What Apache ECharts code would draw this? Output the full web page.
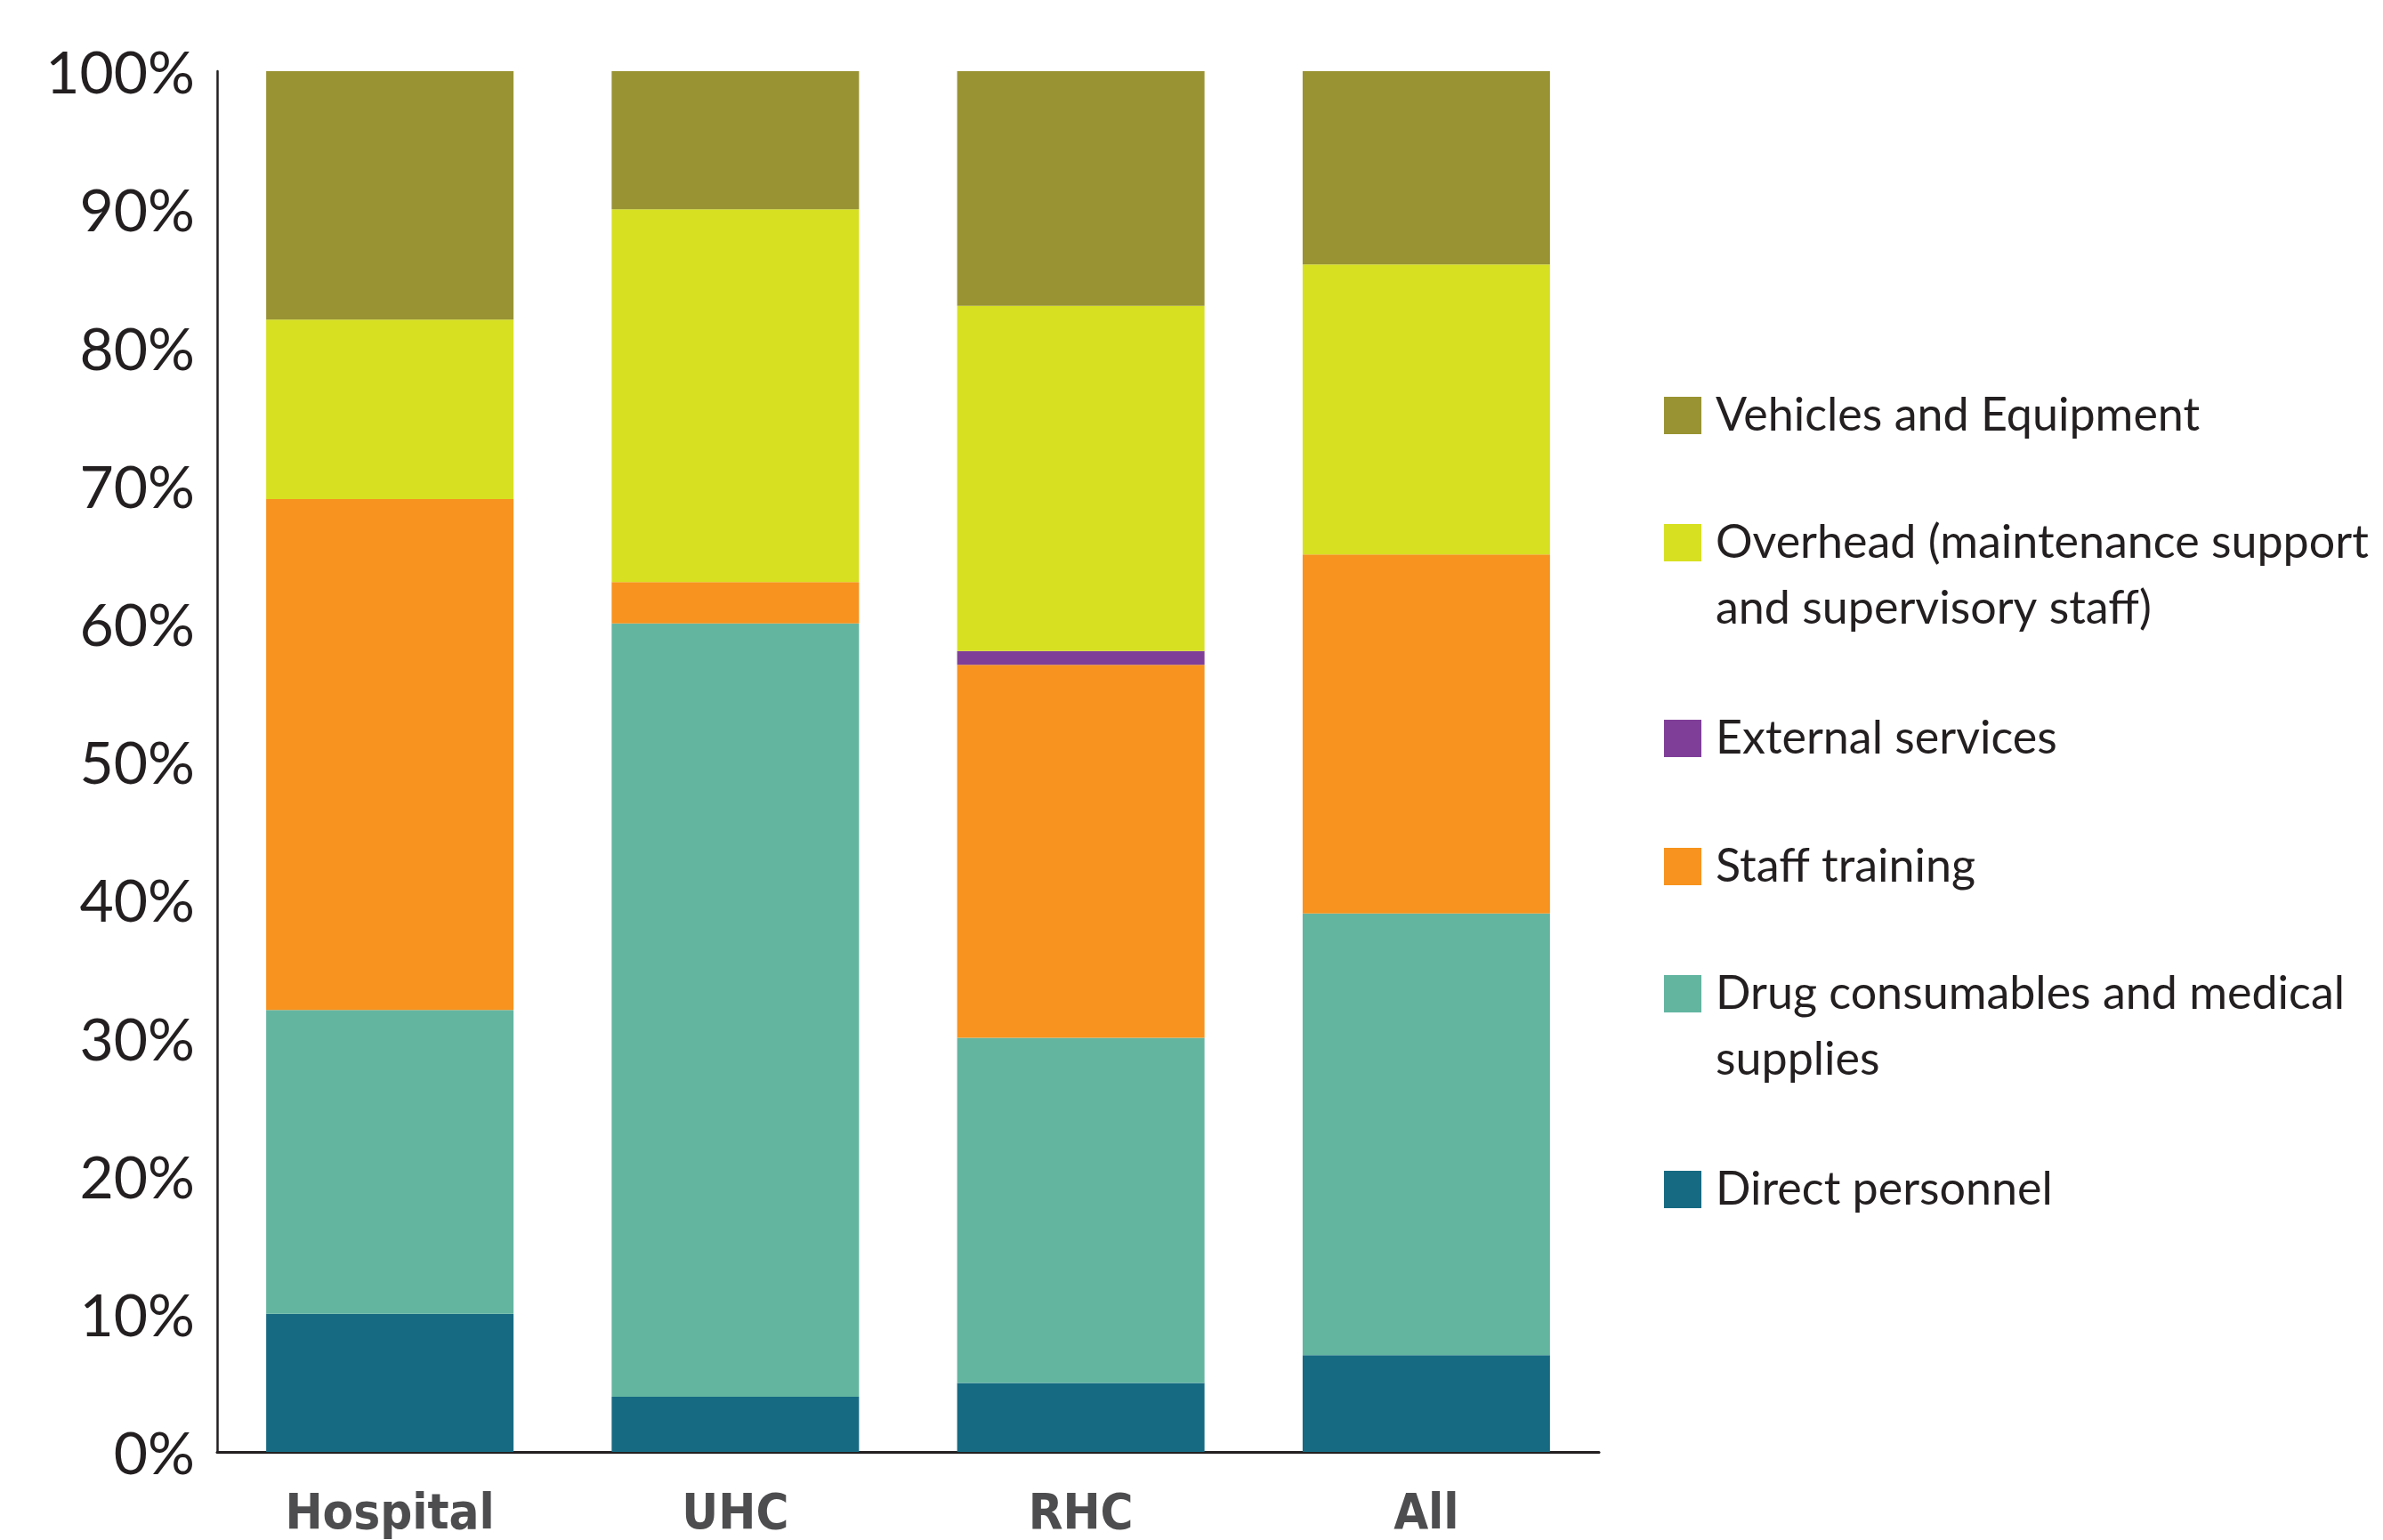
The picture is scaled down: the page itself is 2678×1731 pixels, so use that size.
<!DOCTYPE html>
<html>
<head>
<meta charset="utf-8">
<script src="https://cdn.jsdelivr.net/npm/echarts@6/dist/echarts.min.js"></script>
<style>
  html, body { margin: 0; padding: 0; background: #ffffff; }
  #chart { width: 2678px; height: 1731px; }
</style>
</head>
<body>
<div id="chart"></div>
<script>
// ---- Data (percent of total cost) ----
const categories = ['Hospital', 'UHC', 'RHC', 'All'];
const directPersonnel = [10, 4, 5, 7];
const drugConsumables = [22, 56, 25, 32];
const staffTraining = [37, 3, 27, 26];
const externalServices = [0, 0, 1, 0];
const overhead = [13, 27, 25, 21];
const vehiclesEquipment = [18, 10, 17, 14];

const seriesNames = [
  'Direct personnel',
  'Drug consumables and medical supplies',
  'Staff training',
  'External services',
  'Overhead (maintenance support and supervisory staff)',
  'Vehicles and Equipment'
];
// legend labels as wrapped in the original
const legendLabels = {
  'Vehicles and Equipment': 'Vehicles and Equipment',
  'Overhead (maintenance support and supervisory staff)': 'Overhead (maintenance support\nand supervisory staff)',
  'External services': 'External services',
  'Staff training': 'Staff training',
  'Drug consumables and medical supplies': 'Drug consumables and medical\nsupplies',
  'Direct personnel': 'Direct personnel'
};
const seriesValues = [directPersonnel, drugConsumables, staffTraining, externalServices, overhead, vehiclesEquipment];
const colors = ['#166A82', '#63B5A0', '#F7931E', '#7F3F98', '#D7E021', '#999333'];

const chart = echarts.init(document.getElementById('chart'), null, { renderer: 'canvas' });

const legendFont = "Lato, 'Noto Sans', sans-serif";
const LH = 74;
const legendOrder = [
  'Vehicles and Equipment',
  'Overhead (maintenance support and supervisory staff)',
  'External services',
  'Staff training',
  'Drug consumables and medical supplies',
  'Direct personnel'
];
const legendIconTops = [441, 586, 804, 948, 1093, 1311];

const legends = legendOrder.map(function (name, i) {
  const label = legendLabels[name];
  const multi = label.indexOf('\n') >= 0;
  return {
    show: true,
    orient: 'vertical',
    left: 1870,
    top: multi ? legendIconTops[i] + 21 - LH * 1.5 + 3 : legendIconTops[i],
    padding: 0,
    itemWidth: 42,
    itemHeight: 42,
    icon: 'rect',
    selectedMode: false,
    data: [name],
    // multi-line labels: an empty leading line keeps the first text line level with the icon
    formatter: function (n) {
      const l = legendLabels[n];
      return l.indexOf('\n') >= 0 ? '{s|}\n{t|' + l.split('\n').join('}\n{t|') + '}' : '{t|' + l + '}';
    },
    textStyle: {
      fontFamily: legendFont,
      fontSize: 52,
      color: '#231F20',
      rich: {
        s: { height: LH, lineHeight: LH, fontSize: 52, fontFamily: legendFont },
        t: { height: multi ? LH : 42, lineHeight: multi ? LH : 42, fontSize: 52, fontFamily: legendFont, color: '#231F20', padding: [0, 0, 0, 11] }
      }
    }
  };
});

const option = {
  backgroundColor: '#ffffff',
  animation: false,
  grid: { left: 244, right: 881, top: 80, bottom: 99, containLabel: false },
  legend: legends,
  xAxis: {
    type: 'category',
    data: categories,
    axisLine: { show: true, lineStyle: { color: '#231F20', width: 3 } },
    axisTick: { show: false },
    axisLabel: {
      margin: 43,
      fontSize: 56,
      fontWeight: 'bold',
      fontFamily: "'Liberation Sans Narrow', 'DejaVu Sans Condensed', 'Roboto Condensed', sans-serif",
      color: '#4D4D4F'
    }
  },
  yAxis: {
    type: 'value',
    min: 0,
    max: 100,
    interval: 10,
    axisLine: { show: true, lineStyle: { color: '#231F20', width: 2.5 } },
    axisTick: { show: false },
    splitLine: { show: false },
    axisLabel: {
      formatter: function (v) { return '{a|' + v + '%}'; },
      margin: 25,
      rich: {
        a: {
          fontSize: 66,
          padding: [8, 0, 0, 0],
          fontFamily: "Lato, 'Noto Sans', sans-serif",
          color: '#231F20'
        }
      }
    }
  },
  series: seriesNames.map(function (name, i) {
    return {
      name: name,
      type: 'bar',
      stack: 'total',
      barWidth: '71.6%',
      data: seriesValues[i],
      itemStyle: { color: colors[i] }
    };
  })
};

chart.setOption(option);
</script>
</body>
</html>
